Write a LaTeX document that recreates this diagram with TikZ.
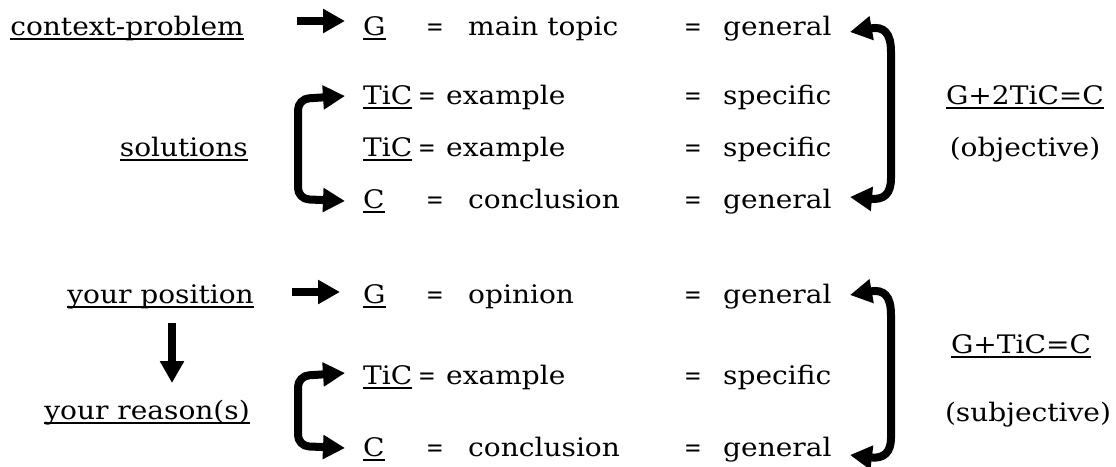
\documentclass[tikz,border=0pt]{standalone}
\usepackage{fontspec}
\setmainfont[FakeStretch=1.1]{DejaVu Serif}
\usetikzlibrary{arrows.meta}
\newcommand\myul[1]{\leavevmode\vtop{\hbox{\raisebox{0pt}[\height][0pt]{#1}}\kern3pt\hrule height 1.8pt}}
\newcommand\eqs{\scalebox{0.75}[1]{=}}
\begin{document}
\begin{tikzpicture}[x=1pt,y=-1pt,
  lbl/.style={inner sep=0pt, font=\fontsize{25.5}{30}\selectfont, anchor=base west},
  lblr/.style={lbl, anchor=base east},
  lblc/.style={lbl, anchor=base},
  tipfat/.tip={Triangle[length=22pt,width=23pt]},
  fat/.style={line width=8pt, -tipfat},
  fatb/.style={line width=8pt, tipfat-tipfat, rounded corners=11pt},
  fatc/.style={line width=8pt, tipfat-tipfat}]
\fill[white] (0,0) rectangle (1116,466);
\useasboundingbox (0,0) rectangle (1116,466);
% ---- upper group
\node[lblr] (ctx) at (244,35) {\myul{context-problem}};
\node[lbl] (g1) at (363,35) {\myul{G}};
\node[lbl] (q1a) at (426,35) {\eqs};
\node[lbl] (w1) at (468,35) {main topic};
\node[lbl] (q1b) at (684,35) {\eqs};
\node[lbl] (v1) at (723,35) {general};

\node[lbl] (g2) at (363,104) {\myul{TiC}};
\node[lbl] (q2a) at (418,104) {\eqs};
\node[lbl] (w2) at (446,104) {example};
\node[lbl] (q2b) at (684,104) {\eqs};
\node[lbl] (v2) at (723,104) {specific};
\node[lblc] (f1) at (1025,104) {\myul{G+2TiC=C}};

\node[lblr] (sol) at (248,156) {\myul{solutions}};
\node[lbl] (g3) at (363,156) {\myul{TiC}};
\node[lbl] (q3a) at (418,156) {\eqs};
\node[lbl] (w3) at (446,156) {example};
\node[lbl] (q3b) at (684,156) {\eqs};
\node[lbl] (v3) at (723,156) {specific};
\node[lblc] (o1) at (1025,156) {(objective)};

\node[lbl] (g4) at (363,208) {\myul{C}};
\node[lbl] (q4a) at (426,208) {\eqs};
\node[lbl] (w4) at (468,208) {conclusion};
\node[lbl] (q4b) at (684,208) {\eqs};
\node[lbl] (v4) at (723,208) {general};
% ---- lower group
\node[lblr] (pos) at (254,303) {\myul{your position}};
\node[lbl] (g5) at (363,303) {\myul{G}};
\node[lbl] (q5a) at (426,303) {\eqs};
\node[lbl] (w5) at (468,303) {opinion};
\node[lbl] (q5b) at (684,303) {\eqs};
\node[lbl] (v5) at (723,303) {general};

\node[lbl] (g6) at (363,384) {\myul{TiC}};
\node[lbl] (q6a) at (418,384) {\eqs};
\node[lbl] (w6) at (446,384) {example};
\node[lbl] (q6b) at (684,384) {\eqs};
\node[lbl] (v6) at (723,384) {specific};
\node[lblc] (f2) at (1021,353) {\myul{G+TiC=C}};
\node[lblc] (o2) at (1028,421) {(subjective)};
\node[lblr] (rea) at (250,419) {\myul{your reason(s)}};

\node[lbl] (g7) at (363,456) {\myul{C}};
\node[lbl] (q7a) at (426,456) {\eqs};
\node[lbl] (w7) at (468,456) {conclusion};
\node[lbl] (q7b) at (684,456) {\eqs};
\node[lbl] (v7) at (723,456) {general};
% ---- arrow end points
\coordinate (a1s) at (297,21);  \coordinate (a1e) at (345,21);
\coordinate (a5s) at (292,292); \coordinate (a5e) at (340,292);
\coordinate (ds) at (172,323);  \coordinate (de) at (172,383);
% ---- arrows
\draw[fat] (a1s) -- (a1e);
\draw[fat] (a5s) -- (a5e);
\draw[fat] (ds) -- (de);
\draw[fatb] (345,96) -- (298,99) -- (298,199) -- (345,201);
\draw[fatb] (345,373) -- (298,376) -- (298,446) -- (345,448);
\draw[fatc] (850,32) .. controls (884,26) and (891,33) .. (891,52) -- (891,178) .. controls (891,194) and (884,200) .. (850,197);
\draw[fatc] (850,295) .. controls (884,289) and (891,296) .. (891,315) -- (891,438) .. controls (891,452) and (884,459) .. (850,455);
\end{tikzpicture}
\end{document}
